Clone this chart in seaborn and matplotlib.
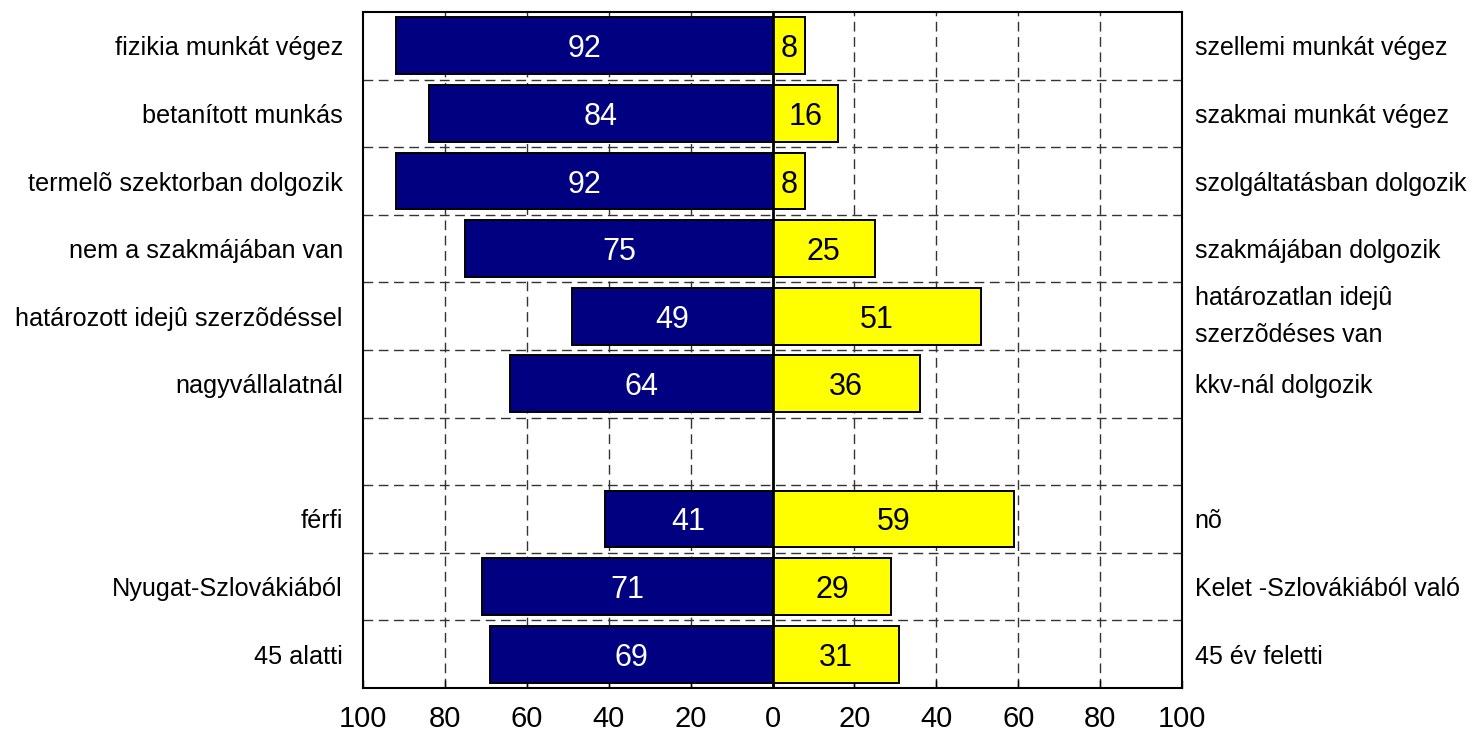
import matplotlib
matplotlib.use("Agg")
import matplotlib.pyplot as plt
import seaborn as sns
import pandas as pd
import numpy as np

# ---- data ----
left_labels = ["fizikia munkát végez", "betanított munkás", "termelõ szektorban dolgozik",
               "nem a szakmájában van", "határozott idejû szerzõdéssel", "nagyvállalatnál",
               "", "férfi", "Nyugat-Szlovákiából", "45 alatti"]
right_labels = ["szellemi munkát végez", "szakmai munkát végez", "szolgáltatásban dolgozik",
                "szakmájában dolgozik", "határozatlan idejû\nszerzõdéses van", "kkv-nál dolgozik",
                "", "nõ", "Kelet -Szlovákiából való", "45 év feletti"]
left_values = [92, 84, 92, 75, 49, 64, None, 41, 71, 69]
right_values = [8, 16, 8, 25, 51, 36, None, 59, 29, 31]
xticks = [-100, -80, -60, -40, -20, 0, 20, 40, 60, 80, 100]
xtick_labels = ["100", "80", "60", "40", "20", "0", "20", "40", "60", "80", "100"]

sns.set_theme(style="white")
plt.rcParams['font.family'] = ['Liberation Sans Narrow', 'Liberation Sans', 'DejaVu Sans']

order = [f"r{i}" for i in range(len(left_labels))]
rows = []
for i, (lv, rv) in enumerate(zip(left_values, right_values)):
    if lv is not None:
        rows.append({"cat": order[i], "side": "left", "value": -lv})
        rows.append({"cat": order[i], "side": "right", "value": rv})
df = pd.DataFrame(rows)

fig = plt.figure(figsize=(14.77, 7.37), dpi=100)
ax = fig.add_axes([0.2458, 0.0665, 0.8003 - 0.2458, 0.9837 - 0.0665])

sns.barplot(data=df, x="value", y="cat", hue="side", order=order, orient="h",
            dodge=False, palette={"left": "#000080", "right": "#FFFF00"}, saturation=1,
            edgecolor="black", linewidth=1.4, width=0.84, legend=False, ax=ax)

# value labels
for i, (lv, rv) in enumerate(zip(left_values, right_values)):
    if lv is None:
        continue
    ax.text(-lv / 2, i, str(lv), ha="center", va="center_baseline", color="white", fontsize=22)
    ax.text(rv / 2, i, str(rv), ha="center", va="center_baseline", color="black", fontsize=22)

ax.set_xlim(-100, 100)
ax.set_ylim(len(order) - 0.5, -0.5)
ax.set_xticks(xticks)
ax.set_xticklabels(xtick_labels, fontsize=21)
ax.set_yticks(range(len(order)))
ax.set_yticklabels(left_labels, fontsize=18.2)
ax.set_xlabel("")
ax.set_ylabel("")

ax.tick_params(axis="x", direction="in", length=6, width=1, pad=12, colors="black", bottom=True)
ax.tick_params(axis="y", length=0, pad=14.5, colors="black")

# gridlines
ax.set_axisbelow(True)
for x in xticks[1:-1]:
    if x != 0:
        ax.axvline(x, color="#333333", lw=1, ls=(0, (7, 4)), zorder=0)
for y in np.arange(0.5, len(order) - 0.5, 1):
    ax.axhline(y, color="#333333", lw=1, ls=(0, (7, 4)), zorder=0)
ax.axvline(0, color="black", lw=2, zorder=5)

for s in ax.spines.values():
    s.set_visible(True)
    s.set_color("black")
    s.set_linewidth(1.5)

# right labels
ax2 = ax.twinx()
ax2.set_ylim(ax.get_ylim())
ax2.set_yticks(range(len(order)))
ax2.set_yticklabels(right_labels, fontsize=18, linespacing=1.7)
ax2.tick_params(axis="y", length=0, pad=9, colors="black")
for lab in ax2.get_yticklabels():
    if "\n" in lab.get_text():
        lab.set_va("center")
for s in ax2.spines.values():
    s.set_visible(False)
ax2.grid(False)

fig.savefig("out.png", dpi=100)
